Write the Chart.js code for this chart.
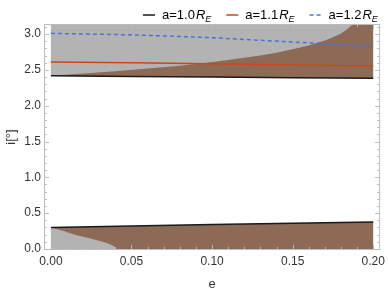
<!DOCTYPE html>
<html>
<head>
<meta charset="utf-8">
<script src="https://cdn.jsdelivr.net/npm/chart.js@4/dist/chart.umd.min.js"></script>
<style>
  html, body { margin: 0; padding: 0; background: #fff; }
  #wrap { width: 389px; height: 294px; }
</style>
</head>
<body>
<div id="wrap"><canvas id="chart"></canvas></div>
<script>
// ticks
const xTicks = [0, 0.05, 0.10, 0.15, 0.20];
const yTicks = [0, 0.5, 1.0, 1.5, 2.0, 2.5, 3.0];

// legend
const legendLabels = ['a=1.0', 'a=1.1', 'a=1.2'];

// lines
const eLine = [0, 0.05, 0.10, 0.15, 0.20];
const iTop10 = [2.42, 2.41, 2.40, 2.39, 2.385];
const iLow10 = [0.30, 0.32, 0.342, 0.36, 0.375];
const iTop11 = [2.61, 2.60, 2.585, 2.57, 2.555];
const iTop12 = [3.01, 2.99, 2.95, 2.89, 2.83];

// region boundaries (gray above the upper one, gray below the lower one)
const eUpper = [0, 0.02, 0.04, 0.06, 0.08, 0.10, 0.11, 0.12, 0.13, 0.14, 0.15, 0.16, 0.165, 0.17, 0.175, 0.18, 0.183, 0.1855, 0.1875];
const iUpper = [2.42, 2.45, 2.48, 2.52, 2.56, 2.61, 2.64, 2.67, 2.70, 2.74, 2.79, 2.84, 2.875, 2.91, 2.955, 3.01, 3.055, 3.10, 3.1416];
const eLower = [0, 0.004, 0.008, 0.012, 0.016, 0.020, 0.024, 0.028, 0.032, 0.035, 0.0375, 0.039, 0.040, 0.0405];
const iLower = [0.30, 0.275, 0.25, 0.22, 0.19, 0.17, 0.15, 0.125, 0.10, 0.08, 0.055, 0.04, 0.02, 0];
const eTopEdge = [0, 0.20];
const iTopEdge = [3.1416, 3.1416];

const gray = '#b3b3b3';
const brown = '#8c6a55';
const colBlack = '#1a1a1a';
const colRed = '#d0461a';
const colBlue = '#4a74d8';
const font = '"Liberation Sans", Arial, sans-serif';

function pts(xs, ys) {
    return xs.map((x, k) => ({ x: x, y: ys[k] }));
}

// shaded regions, mapped through the chart's scales
const regions = {
    id: 'regions',
    beforeDatasetsDraw(chart) {
        const ctx = chart.ctx;
        const a = chart.chartArea;
        const sx = chart.scales.x;
        const sy = chart.scales.y;
        // polygon: along (xs1, ys1), then back along (xs2, ys2) reversed
        function area(xs1, ys1, xs2, ys2, color) {
            ctx.beginPath();
            xs1.forEach((e, k) => {
                const px = sx.getPixelForValue(e);
                const py = sy.getPixelForValue(ys1[k]);
                if (k === 0) ctx.moveTo(px, py); else ctx.lineTo(px, py);
            });
            for (let k = xs2.length - 1; k >= 0; k--) {
                ctx.lineTo(sx.getPixelForValue(xs2[k]), sy.getPixelForValue(ys2[k]));
            }
            ctx.closePath();
            ctx.fillStyle = color;
            ctx.fill();
        }
        const ends = [eLine[0], eLine[eLine.length - 1]];
        ctx.save();
        ctx.beginPath();
        ctx.rect(a.left, a.top, a.right - a.left, a.bottom - a.top);
        ctx.clip();
        area(eLine, iTop10, eTopEdge, iTopEdge, brown);
        area(eUpper, iUpper, [eUpper[0]], [iTopEdge[0]], gray);
        area(eLine, iLow10, ends, [0, 0], brown);
        area(eLower, iLower, [eLower[0]], [0], gray);
        ctx.restore();
    }
};

const frameTicks = {
    id: 'frameTicks',
    afterDatasetsDraw(chart) {
        const ctx = chart.ctx;
        const a = chart.chartArea;
        const x = chart.scales.x;
        const y = chart.scales.y;
        ctx.save();
        ctx.strokeStyle = '#bcbcbc';
        ctx.lineWidth = 1;
        ctx.strokeRect(a.left + 0.5, a.top + 0.5, a.right - a.left - 1, a.bottom - a.top - 1);
        ctx.beginPath();
        for (let k = 0; k <= 20; k++) {
            const px = Math.round(x.getPixelForValue(k * 0.01)) + 0.5;
            const len = k % 5 === 0 ? 5 : 3;
            ctx.moveTo(px, a.bottom); ctx.lineTo(px, a.bottom - len);
            ctx.moveTo(px, a.top); ctx.lineTo(px, a.top + len);
        }
        for (let k = 0; k <= 31; k++) {
            const py = Math.round(y.getPixelForValue(k * 0.1)) + 0.5;
            if (py < a.top) continue;
            const len = k % 5 === 0 ? 5 : 3;
            ctx.moveTo(a.left, py); ctx.lineTo(a.left + len, py);
            ctx.moveTo(a.right, py); ctx.lineTo(a.right - len, py);
        }
        ctx.stroke();
        ctx.restore();
    }
};

const legendPlugin = {
    id: 'mathLegend',
    afterDraw(chart) {
        const ctx = chart.ctx;
        const colors = [colBlack, colRed, colBlue];
        const dashes = [[], [], [4, 3]];
        let x = 143;
        const y = 15;
        ctx.save();
        ctx.textBaseline = 'middle';
        ctx.fillStyle = '#000';
        legendLabels.forEach((lab, k) => {
            ctx.strokeStyle = colors[k];
            ctx.lineWidth = 1.5;
            ctx.setLineDash(dashes[k]);
            ctx.beginPath();
            ctx.moveTo(x, y);
            ctx.lineTo(x + 12, y);
            ctx.stroke();
            x += 19;
            ctx.font = '13px ' + font;
            ctx.fillText(lab, x, y);
            x += ctx.measureText(lab).width + 1;
            ctx.font = 'italic 13px ' + font;
            ctx.fillText('R', x, y);
            x += ctx.measureText('R').width;
            ctx.font = 'italic 9px ' + font;
            ctx.fillText('E', x, y + 4);
            x += ctx.measureText('E').width;
            x += 15;
        });
        ctx.restore();
    }
};

new Chart(document.getElementById('chart'), {
    type: 'line',
    data: {
        datasets: [
            { data: pts(eLine, iTop10), borderColor: colBlack, borderWidth: 1.5, fill: false },
            { data: pts(eLine, iLow10), borderColor: colBlack, borderWidth: 1.5, fill: false },
            { data: pts(eLine, iTop11), borderColor: colRed, borderWidth: 1.5, fill: false },
            { data: pts(eLine, iTop12), borderColor: colBlue, borderWidth: 1.5, borderDash: [4, 3], fill: false }
        ]
    },
    options: {
        responsive: true,
        maintainAspectRatio: false,
        animation: false,
        elements: { point: { radius: 0 }, line: { tension: 0 } },
        layout: { padding: { top: 24, right: 6, left: 0, bottom: 0 } },
        plugins: {
            legend: { display: false },
            tooltip: { enabled: false }
        },
        scales: {
            x: {
                type: 'linear',
                min: -0.0043,
                max: 0.2043,
                grid: { display: false, drawTicks: false },
                border: { display: false },
                afterFit(scale) { scale.height = 44; },
                afterBuildTicks(scale) { scale.ticks = xTicks.map(v => ({ value: v })); },
                ticks: {
                    padding: 4,
                    color: '#333',
                    font: { family: font, size: 12 },
                    callback: v => v.toFixed(2)
                },
                title: { display: true, text: 'e', color: '#333', font: { family: font, size: 13 }, padding: { top: 0, bottom: 2 } }
            },
            y: {
                type: 'linear',
                min: -0.015,
                max: 3.1416,
                grid: { display: false, drawTicks: false },
                border: { display: false },
                afterFit(scale) { scale.width = 44; },
                afterBuildTicks(scale) { scale.ticks = yTicks.map(v => ({ value: v })); },
                ticks: {
                    padding: 3,
                    color: '#333',
                    font: { family: font, size: 12 },
                    callback: v => v.toFixed(1)
                },
                title: { display: true, text: 'i[°]', color: '#333', font: { family: font, size: 13 }, padding: { top: 4, bottom: 0 } }
            }
        }
    },
    plugins: [regions, frameTicks, legendPlugin]
});
</script>
</body>
</html>
